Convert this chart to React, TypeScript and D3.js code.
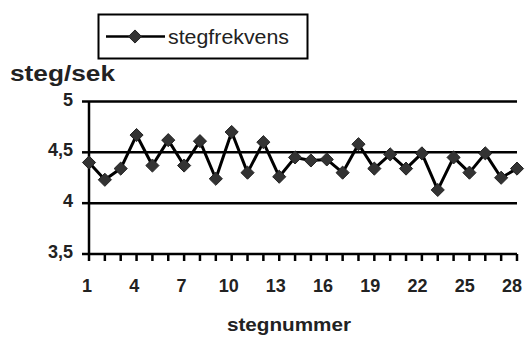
import React from "react";
import * as d3 from "d3";

const steps: number[] = d3.range(1, 29);
const stepFrequency: number[] = [
  4.40, 4.23, 4.34, 4.67, 4.37, 4.62, 4.37, 4.61, 4.24, 4.70,
  4.30, 4.60, 4.26, 4.45, 4.42, 4.43, 4.30, 4.58, 4.34, 4.48,
  4.34, 4.49, 4.13, 4.45, 4.30, 4.49, 4.25, 4.34,
];
const yTicks: number[] = [3.5, 4, 4.5, 5];
const xTickLabels: number[] = [1, 4, 7, 10, 13, 16, 19, 22, 25, 28];

const W = 528;
const H = 339;
const left = 89;
const right = 517;
const top = 101.5;
const bottom = 254;

const font = "'Liberation Sans', Arial, Helvetica, sans-serif";

export default function App() {
  const x = d3.scaleLinear().domain([1, 28]).range([left, right]);
  const y = d3.scaleLinear().domain([3.5, 5]).range([bottom, top]);
  // category labels sit a little left of their tick, drifting with position
  const xLabel = d3.scaleLinear().domain([1, 28]).range([87, 512]);
  const line = d3
    .line<number>()
    .x((_, i) => x(steps[i]))
    .y((d) => y(d));
  const diamond = d3.symbol().type(d3.symbolDiamond2).size(110)();
  const fmt = (v: number) => String(v).replace(".", ",");

  return (
    <svg
      width={W}
      height={H}
      style={{ position: "absolute", left: 0, top: 0, background: "#fff" }}
      fontFamily={font}
    >
      {/* horizontal gridlines */}
      {yTicks.map((t) => (
        <line key={"g" + t} x1={left} x2={right} y1={y(t)} y2={y(t)} stroke="#000" strokeWidth={2.5} />
      ))}
      {/* y tick marks and labels */}
      {yTicks.map((t) => (
        <g key={"y" + t}>
          <line x1={left - 7} x2={left} y1={y(t)} y2={y(t)} stroke="#000" strokeWidth={2.5} />
          <text
            x={73}
            y={y(t) + 4}
            textAnchor="end"
            fontSize={18}
            fontWeight="bold"
            fill="#222"
          >
            {fmt(t)}
          </text>
        </g>
      ))}
      {/* y axis */}
      <line x1={left} x2={left} y1={top} y2={bottom} stroke="#000" strokeWidth={2.5} />
      {/* x tick marks */}
      {steps.map((s) => (
        <line key={"xt" + s} x1={x(s)} x2={x(s)} y1={bottom} y2={bottom + 7} stroke="#000" strokeWidth={2.5} />
      ))}
      {xTickLabels.map((s) => (
        <text
          key={"xl" + s}
          x={xLabel(s)}
          y={292}
          textAnchor="middle"
          fontSize={18}
          fontWeight="bold"
          fill="#222"
        >
          {s}
        </text>
      ))}
      {/* data series */}
      <path d={line(stepFrequency) ?? ""} fill="none" stroke="#000" strokeWidth={3} strokeLinejoin="round" />
      {stepFrequency.map((v, i) => (
        <path
          key={"p" + i}
          d={diamond ?? ""}
          transform={`translate(${x(steps[i])},${y(v)})`}
          fill="#333"
          stroke="#222"
          strokeWidth={1}
        />
      ))}
      {/* axis titles */}
      <text x={10} y={81} fontSize={22} fontWeight="bold" fill="#222" textLength={105} lengthAdjust="spacingAndGlyphs">
        steg/sek
      </text>
      <text x={227} y={331} fontSize={19} fontWeight="bold" fill="#222" textLength={124} lengthAdjust="spacingAndGlyphs">
        stegnummer
      </text>
      {/* legend */}
      <rect x={98.5} y={14.5} width={209} height={44} fill="#fff" stroke="#000" strokeWidth={2} />
      <line x1={106} x2={165} y1={36.5} y2={36.5} stroke="#000" strokeWidth={2.5} />
      <path d={diamond ?? ""} transform="translate(135,36.5)" fill="#333" stroke="#222" strokeWidth={1} />
      <text x={168} y={44} fontSize={20} fill="#222" textLength={121} lengthAdjust="spacingAndGlyphs">
        stegfrekvens
      </text>
    </svg>
  );
}
